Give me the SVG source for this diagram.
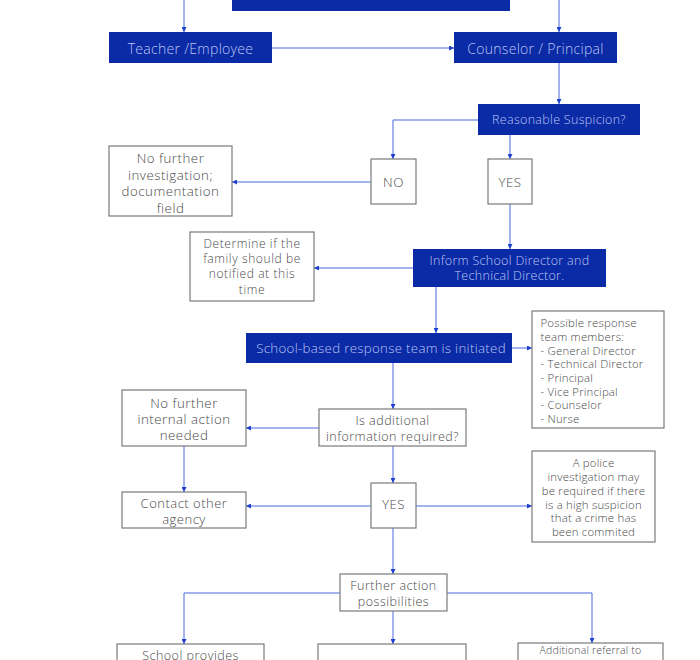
<svg xmlns="http://www.w3.org/2000/svg" width="700" height="660" viewBox="0 0 700 660">
<style>
.dk{fill:#0a2aa6;stroke:none}
.bx{fill:#fff;stroke:#7a7a7a;stroke-width:1.2}
.tl{font-family:"Open Sans","Liberation Sans",sans-serif;font-weight:300;font-size:14px;letter-spacing:0.3px;fill:#bcc6f3;text-anchor:middle;dominant-baseline:central}
.t{font-family:"Open Sans","Liberation Sans",sans-serif;font-weight:300;font-size:13.3px;letter-spacing:0.5px;fill:#4a4a4a;text-anchor:middle;dominant-baseline:central}
.ts{font-family:"Open Sans","Liberation Sans",sans-serif;font-weight:300;font-size:11.4px;letter-spacing:0.2px;fill:#4a4a4a;dominant-baseline:central}
.c{fill:none;stroke:#4a68e0;stroke-width:1}
</style>
<defs>
<marker id="a" viewBox="0 0 6 6" refX="6" refY="3" markerWidth="5" markerHeight="5" orient="auto" markerUnits="userSpaceOnUse"><path d="M0,0 L6,3 L0,6 z" fill="#1f3fd0"/></marker>
</defs>
<g id="connectors">
<path class="c" d="M184,0 V32" marker-end="url(#a)"/>
<path class="c" d="M559,0 V32" marker-end="url(#a)"/>
<path class="c" d="M272,48 H454" marker-end="url(#a)"/>
<path class="c" d="M559,63 V104" marker-end="url(#a)"/>
<path class="c" d="M478,120 H393 V159" marker-end="url(#a)"/>
<path class="c" d="M510,135 V159" marker-end="url(#a)"/>
<path class="c" d="M371,182 H232" marker-end="url(#a)"/>
<path class="c" d="M510,204 V249" marker-end="url(#a)"/>
<path class="c" d="M413,268 H314" marker-end="url(#a)"/>
<path class="c" d="M436,287 V333" marker-end="url(#a)"/>
<path class="c" d="M512,348 H532" marker-end="url(#a)"/>
<path class="c" d="M393,363 V409" marker-end="url(#a)"/>
<path class="c" d="M319,428 H246" marker-end="url(#a)"/>
<path class="c" d="M184,446 V492" marker-end="url(#a)"/>
<path class="c" d="M393,446 V483" marker-end="url(#a)"/>
<path class="c" d="M371,506 H246" marker-end="url(#a)"/>
<path class="c" d="M416,506 H532" marker-end="url(#a)"/>
<path class="c" d="M393,528 V574" marker-end="url(#a)"/>
<path class="c" d="M340,593 H184 V644" marker-end="url(#a)"/>
<path class="c" d="M393,611 V644" marker-end="url(#a)"/>
<path class="c" d="M447,593 H592 V643" marker-end="url(#a)"/>
</g>
<g id="top"><rect class="dk" x="232" y="-20" width="278" height="31"/></g>
<g id="teacher"><rect class="dk" x="109" y="32" width="163" height="31"/><text class="tl" x="190.5" y="48">Teacher /Employee</text></g>
<g id="counselor"><rect class="dk" x="454" y="32" width="163" height="31"/><text class="tl" x="535.5" y="48">Counselor / Principal</text></g>
<g id="suspicion"><rect class="dk" x="478" y="104" width="162" height="31"/><text class="tl" x="559" y="119.5" style="font-size:12.5px">Reasonable Suspicion?</text></g>
<g id="nofurther1"><rect class="bx" x="109" y="146" width="123" height="70"/><text class="t" x="170.5" y="158">No further</text><text class="t" x="170.5" y="174.5">investigation;</text><text class="t" x="170.5" y="191">documentation</text><text class="t" x="170.5" y="207.5">field</text></g>
<g id="no"><rect class="bx" x="371" y="159" width="45" height="45"/><text class="t" x="393.5" y="181.5">NO</text></g>
<g id="yes1"><rect class="bx" x="488" y="159" width="44" height="45"/><text class="t" x="510" y="181.5">YES</text></g>
<g id="inform"><rect class="dk" x="413" y="249" width="193" height="38"/><text class="tl" x="509.5" y="260" style="font-size:12.5px">Inform School Director and</text><text class="tl" x="509.5" y="275.5" style="font-size:12.5px">Technical Director.</text></g>
<g id="determine"><rect class="bx" x="190" y="232" width="124" height="69"/><text class="t" x="252" y="243.3" style="font-size:12px;letter-spacing:0.6px">Determine if the</text><text class="t" x="252" y="258.6" style="font-size:12px;letter-spacing:0.6px">family should be</text><text class="t" x="252" y="273.9" style="font-size:12px;letter-spacing:0.6px">notified at this</text><text class="t" x="252" y="289.2" style="font-size:12px;letter-spacing:0.6px">time</text></g>
<g id="schoolteam"><rect class="dk" x="246" y="333" width="266" height="30"/><text class="tl" x="381" y="348.3" style="font-size:13.3px">School-based response team is initiated</text></g>
<g id="members"><rect class="bx" x="532" y="311" width="132" height="117"/>
<text class="ts" x="540.5" y="322.7">Possible response</text>
<text class="ts" x="540.5" y="336.4">team members:</text>
<text class="ts" x="540.5" y="350.1">- General Director</text>
<text class="ts" x="540.5" y="363.8">- Technical Director</text>
<text class="ts" x="540.5" y="377.5">- Principal</text>
<text class="ts" x="540.5" y="391.2">- Vice Principal</text>
<text class="ts" x="540.5" y="404.9">- Counselor</text>
<text class="ts" x="540.5" y="418.6">- Nurse</text></g>
<g id="nofurther2"><rect class="bx" x="122" y="390" width="124" height="56"/><text class="t" x="184" y="402.7">No further</text><text class="t" x="184" y="419">internal action</text><text class="t" x="184" y="435.3">needed</text></g>
<g id="additional"><rect class="bx" x="319" y="409" width="147" height="37"/><text class="t" x="392.5" y="420.5" style="font-size:12.5px">Is additional</text><text class="t" x="392.5" y="436" style="font-size:12.5px">information required?</text></g>
<g id="contact"><rect class="bx" x="122" y="492" width="124" height="36"/><text class="t" x="184" y="503" style="font-size:13px">Contact other</text><text class="t" x="184" y="519.3" style="font-size:13px">agency</text></g>
<g id="yes2"><rect class="bx" x="371" y="483" width="45" height="45"/><text class="t" x="393.5" y="504">YES</text></g>
<g id="police"><rect class="bx" x="532" y="451" width="123" height="91"/>
<text class="ts" x="593.5" y="462.3" text-anchor="middle">A police</text>
<text class="ts" x="593.5" y="476.2" text-anchor="middle">investigation may</text>
<text class="ts" x="593.5" y="490.1" text-anchor="middle">be required if there</text>
<text class="ts" x="593.5" y="504" text-anchor="middle">is a high suspicion</text>
<text class="ts" x="593.5" y="517.9" text-anchor="middle">that a crime has</text>
<text class="ts" x="593.5" y="531.8" text-anchor="middle">been commited</text></g>
<g id="furtheraction"><rect class="bx" x="340" y="574" width="107" height="37"/><text class="t" x="393.5" y="585.5" style="font-size:12.5px">Further action</text><text class="t" x="393.5" y="601" style="font-size:12.5px">possibilities</text></g>
<g id="schoolprovides"><rect class="bx" x="117" y="644" width="147" height="40"/><text class="t" x="190.5" y="655" style="font-size:12.5px">School provides</text></g>
<g id="middlebox"><rect class="bx" x="318" y="644" width="148" height="40"/></g>
<g id="referral"><rect class="bx" x="518" y="643" width="145" height="40"/><text class="ts" x="590.5" y="650" text-anchor="middle" style="font-size:10.5px">Additional referral to</text></g>
</svg>
